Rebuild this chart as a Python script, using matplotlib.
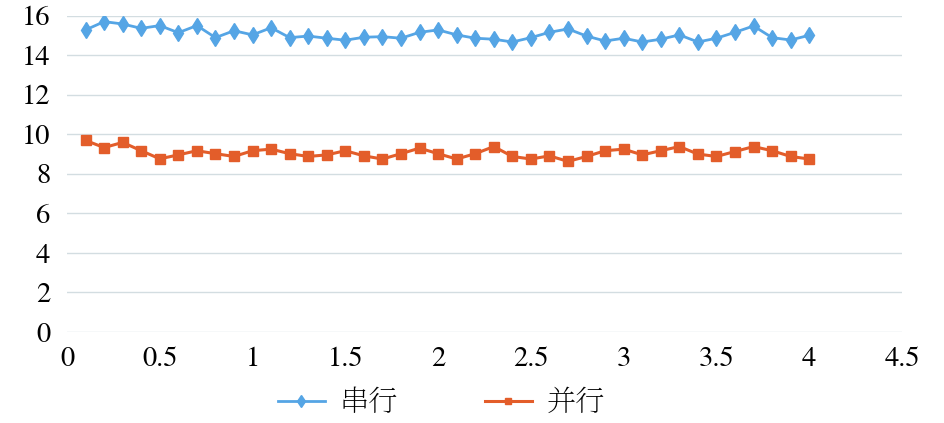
import matplotlib
matplotlib.use("Agg")
import matplotlib.pyplot as plt

# 串行 / 并行 运行时间对比
x_vals = [0.1, 0.2, 0.3, 0.4, 0.5, 0.6, 0.7, 0.8, 0.9, 1.0,
          1.1, 1.2, 1.3, 1.4, 1.5, 1.6, 1.7, 1.8, 1.9, 2.0,
          2.1, 2.2, 2.3, 2.4, 2.5, 2.6, 2.7, 2.8, 2.9, 3.0,
          3.1, 3.2, 3.3, 3.4, 3.5, 3.6, 3.7, 3.8, 3.9, 4.0]

serial = [15.28, 15.70, 15.58, 15.36, 15.50, 15.14, 15.50, 14.89, 15.24, 15.03,
          15.39, 14.89, 14.97, 14.86, 14.76, 14.91, 14.94, 14.86, 15.16, 15.28,
          15.03, 14.86, 14.81, 14.67, 14.89, 15.16, 15.33, 14.97, 14.72, 14.86,
          14.67, 14.81, 15.03, 14.67, 14.86, 15.16, 15.48, 14.89, 14.77, 15.01]

parallel = [9.69, 9.33, 9.59, 9.17, 8.76, 8.96, 9.17, 9.02, 8.88, 9.17,
            9.25, 9.02, 8.88, 8.96, 9.17, 8.91, 8.75, 9.02, 9.30, 9.02,
            8.75, 9.02, 9.38, 8.88, 8.75, 8.91, 8.63, 8.88, 9.17, 9.25,
            8.96, 9.17, 9.38, 9.00, 8.88, 9.13, 9.38, 9.17, 8.88, 8.75]

series_names = ["串行", "并行"]
x_ticks = [0, 0.5, 1, 1.5, 2, 2.5, 3, 3.5, 4, 4.5]
x_ticklabels = ["0", "0.5", "1", "1.5", "2", "2.5", "3", "3.5", "4", "4.5"]
y_ticks = [0, 2, 4, 6, 8, 10, 12, 14, 16]
y_ticklabels = ["0", "2", "4", "6", "8", "10", "12", "14", "16"]

# 数字用 Times 风格（FreeSerif），图例中文用宋体风格
num_font = {"family": "FreeSerif", "size": 20.5}

fig = plt.figure(figsize=(9.45, 4.23), dpi=100)
ax = fig.add_axes([0.0709, 0.2151, 0.8836, 0.7478])

ax.plot(x_vals, serial, color="#55A5E5", lw=2.0, marker="d",
        markersize=8, label=series_names[0])
ax.plot(x_vals, parallel, color="#E35D2A", lw=2.2, marker="s",
        markersize=6.5, label=series_names[1])

ax.set_xlim(0, 4.5)
ax.set_ylim(0, 16)
ax.set_xticks(x_ticks)
ax.set_xticklabels(x_ticklabels, fontdict=num_font)
ax.set_yticks(y_ticks)
ax.set_yticklabels(y_ticklabels, fontdict=num_font)

ax.grid(axis="y", color="#D3DDE1", lw=1.0)
ax.set_axisbelow(True)
for side in ["top", "right", "left", "bottom"]:
    ax.spines[side].set_visible(False)
ax.tick_params(axis="both", length=0)
ax.tick_params(axis="x", pad=11)
ax.tick_params(axis="y", pad=12)

leg = fig.legend(loc="center", bbox_to_anchor=(0.467, 0.047), ncol=2,
                 frameon=False, handlelength=1.6, markerscale=0.75,
                 columnspacing=3.0, handletextpad=0.5,
                 prop={"family": "Noto Serif CJK JP", "size": 21, "weight": "light"})

fig.savefig("out.png", dpi=100, facecolor="white")
